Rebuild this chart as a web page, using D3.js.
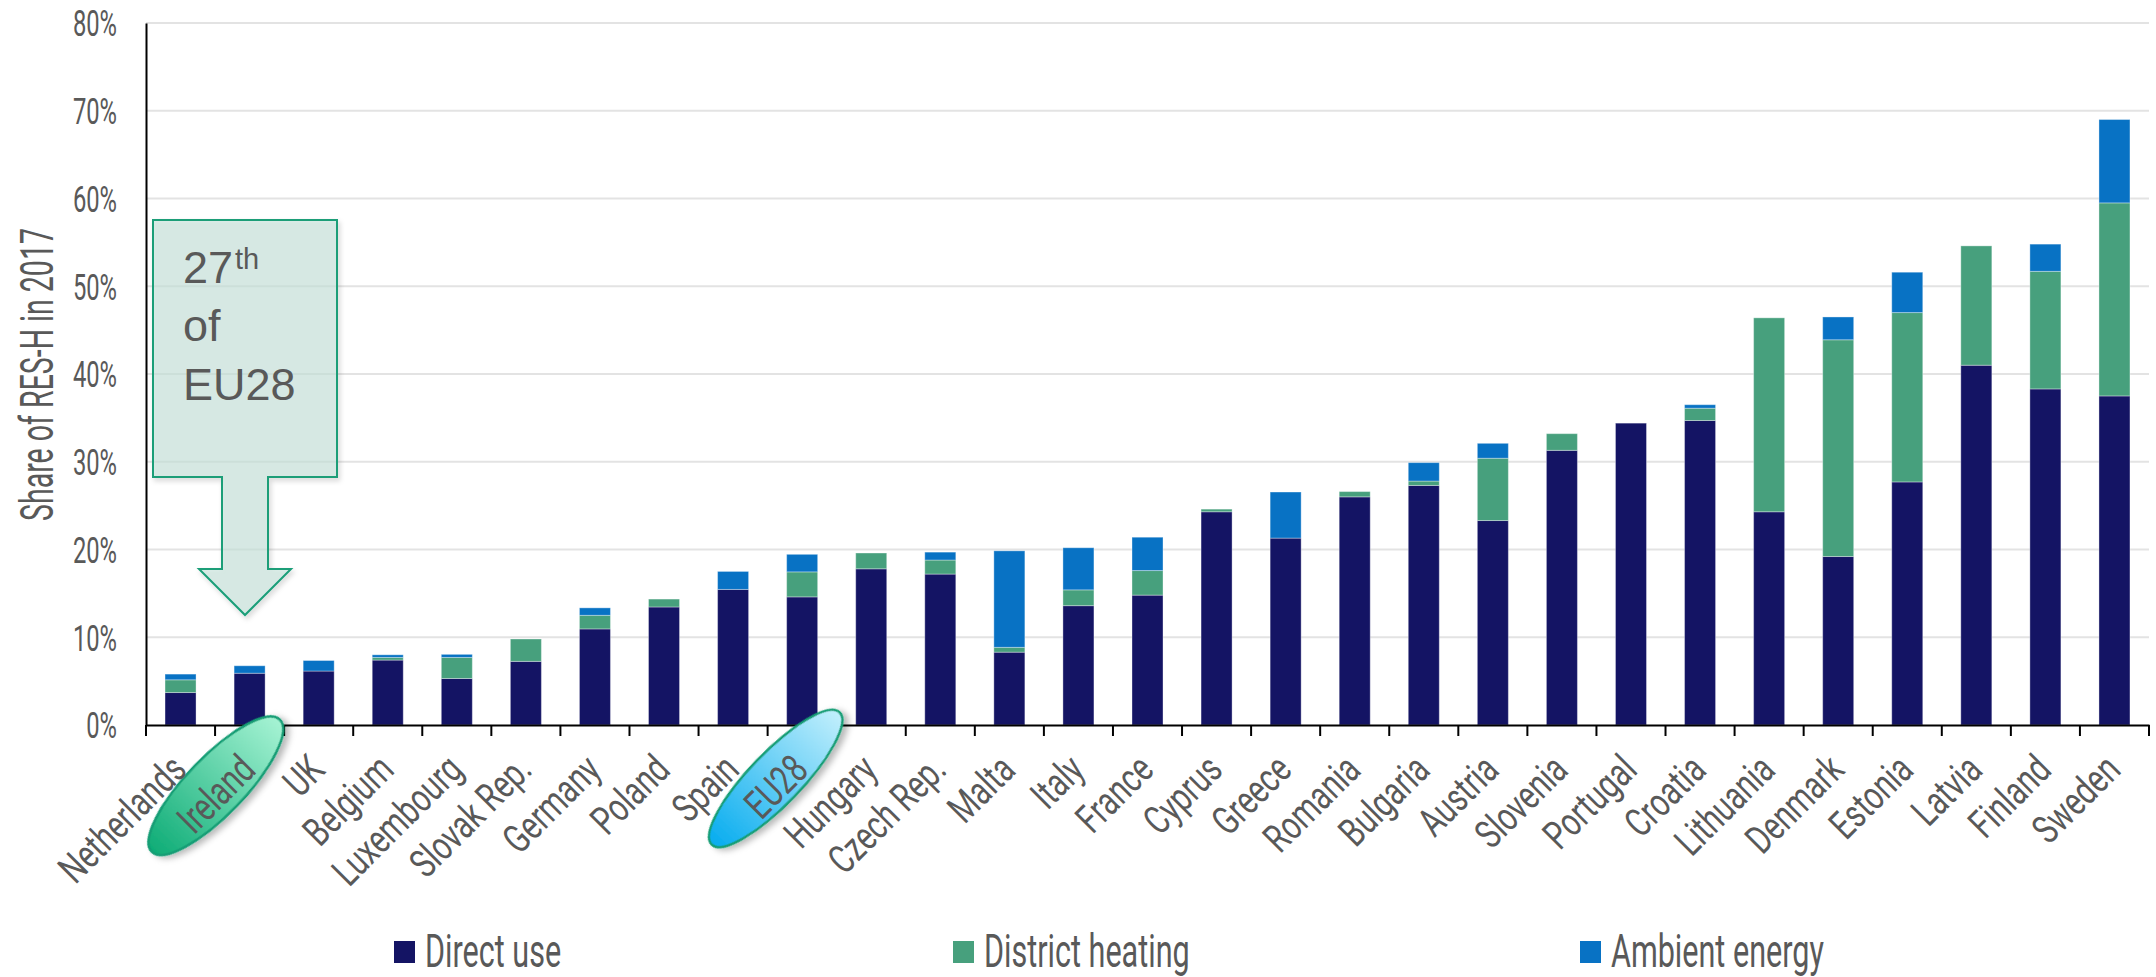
<!DOCTYPE html>
<html>
<head>
<meta charset="utf-8">
<script src="https://cdn.jsdelivr.net/npm/d3@7"></script>
<style>
  html, body { margin: 0; padding: 0; background: #ffffff; }
  svg { display: block; }
</style>
</head>
<body>
<svg id="chart" width="2156" height="977"></svg>
<script>
// Share of renewable energy in heating (RES-H), 2017, by source (percent)
const countries = ["Netherlands", "Ireland", "UK", "Belgium", "Luxembourg", "Slovak Rep.", "Germany", "Poland", "Spain", "EU28",
  "Hungary", "Czech Rep.", "Malta", "Italy", "France", "Cyprus", "Greece", "Romania", "Bulgaria", "Austria",
  "Slovenia", "Portugal", "Croatia", "Lithuania", "Denmark", "Estonia", "Latvia", "Finland", "Sweden"];
const directUse = [3.7, 5.9, 6.15, 7.4, 5.3, 7.25, 10.95, 13.45, 15.45, 14.6,
  17.8, 17.2, 8.3, 13.6, 14.8, 24.3, 21.3, 26.0, 27.3, 23.3,
  31.3, 34.4, 34.7, 24.3, 19.2, 27.7, 41.0, 38.3, 37.5];
const districtHeating = [1.45, 0, 0, 0.3, 2.4, 2.55, 1.55, 0.9, 0, 2.85,
  1.8, 1.6, 0.55, 1.8, 2.8, 0.3, 0, 0.6, 0.5, 7.1,
  1.9, 0, 1.4, 22.1, 24.7, 19.3, 13.6, 13.4, 22.0];
const ambientEnergy = [0.65, 0.85, 1.2, 0.3, 0.35, 0, 0.85, 0, 2.05, 2.0,
  0, 0.9, 11.0, 4.8, 3.8, 0, 5.25, 0, 2.1, 1.7,
  0, 0, 0.4, 0, 2.6, 4.6, 0, 3.1, 9.5];
const yTickValues = [0, 10, 20, 30, 40, 50, 60, 70, 80];
const seriesNames = ["Direct use", "District heating", "Ambient energy"];
const seriesColors = ["#141464", "#47a07d", "#0872c4"];
const yAxisTitle = "Share of RES-H in 2017";
const highlighted = ["Ireland", "EU28"];
const rankNote = ["27", "th", "of", "EU28"];

const rows = countries.map((c, i) => ({
  country: c,
  "Direct use": directUse[i],
  "District heating": districtHeating[i],
  "Ambient energy": ambientEnergy[i]
}));

const svg = d3.select("#chart");
const labelFont = "Roboto, 'DejaVu Sans', sans-serif";
const textGrey = "#595959";

// Narrow the glyphs of a text along its baseline (a condensed look)
function condense(selection, factor) {
  selection.each(function () {
    const len = this.getComputedTextLength();
    d3.select(this).attr("textLength", len * factor).attr("lengthAdjust", "spacingAndGlyphs");
  });
}

const plotLeft = 146, plotRight = 2149, plotTop = 23, plotBottom = 725;

const x = d3.scaleBand()
  .domain(countries)
  .range([plotLeft, plotRight])
  .paddingInner(0.551)
  .paddingOuter(0.2755);

const y = d3.scaleLinear().domain([0, 80]).range([plotBottom, plotTop]);
const color = d3.scaleOrdinal().domain(seriesNames).range(seriesColors);

// ---------- defs: gradients and shadow ----------
const defs = svg.append("defs");
const shadow = defs.append("filter").attr("id", "softShadow")
  .attr("x", "-30%").attr("y", "-30%").attr("width", "160%").attr("height", "160%");
shadow.append("feDropShadow").attr("dx", 2).attr("dy", 5).attr("stdDeviation", 3)
  .attr("flood-color", "#000").attr("flood-opacity", 0.28);

const calloutShadow = defs.append("filter").attr("id", "calloutShadow")
  .attr("x", "-20%").attr("y", "-20%").attr("width", "140%").attr("height", "140%");
calloutShadow.append("feDropShadow").attr("dx", 2).attr("dy", 3).attr("stdDeviation", 2.5)
  .attr("flood-color", "#000").attr("flood-opacity", 0.18);

const ovalStyles = {
  "Ireland": { from: "#0eac76", to: "#a6f3d4" },
  "EU28": { from: "#06acef", to: "#c2effc" }
};
Object.entries(ovalStyles).forEach(([k, s], i) => {
  const g = defs.append("linearGradient").attr("id", "ovalGrad" + i)
    .attr("x1", "0%").attr("y1", "50%").attr("x2", "100%").attr("y2", "50%");
  g.append("stop").attr("offset", "0%").attr("stop-color", s.from);
  g.append("stop").attr("offset", "100%").attr("stop-color", s.to);
  s.id = "ovalGrad" + i;
});

// ---------- gridlines ----------
svg.append("g").attr("class", "grid")
  .selectAll("line")
  .data(yTickValues.filter(d => d > 0))
  .join("line")
  .attr("x1", plotLeft).attr("x2", plotRight)
  .attr("y1", d => y(d)).attr("y2", d => y(d))
  .attr("stroke", "#e3e3e3").attr("stroke-width", 2);

// ---------- stacked bars ----------
const stacked = d3.stack().keys(seriesNames)(rows);
svg.append("g").attr("class", "bars")
  .selectAll("g")
  .data(stacked)
  .join("g")
  .attr("fill", d => color(d.key))
  .selectAll("rect")
  .data(d => d.filter(p => p[1] - p[0] > 0))
  .join("rect")
  .attr("x", d => x(d.data.country))
  .attr("width", x.bandwidth())
  .attr("y", d => y(d[1]))
  .attr("height", d => y(d[0]) - y(d[1]))
  .attr("stroke", "#ffffff").attr("stroke-opacity", 0.35).attr("stroke-width", 1);

// ---------- y axis ----------
const yAxis = svg.append("g").attr("class", "y-axis")
  .attr("transform", `translate(${plotLeft},0)`)
  .call(d3.axisLeft(y).tickValues(yTickValues).tickSize(0).tickPadding(29).tickFormat(d => d + "%"));
yAxis.select(".domain").attr("stroke", "#000").attr("stroke-width", 2);
yAxis.selectAll("text")
  .attr("font-family", labelFont).attr("font-size", 36).attr("fill", textGrey)
  .attr("dy", "0.36em")
  .call(condense, 0.66);

svg.append("text")
  .attr("transform", `translate(53,374.5) rotate(-90)`)
  .attr("text-anchor", "middle")
  .attr("font-family", labelFont).attr("font-size", 46).attr("fill", textGrey)
  .text(yAxisTitle)
  .call(condense, 0.62);

// ---------- x axis ----------
const xAxis = svg.append("g").attr("class", "x-axis")
  .attr("transform", `translate(0,${plotBottom})`)
  .call(d3.axisBottom(x).tickSize(0).tickSizeOuter(0).tickFormat(() => ""));
xAxis.select(".domain").attr("stroke", "#000").attr("stroke-width", 2.2);
xAxis.selectAll(".tick").remove();
xAxis.selectAll("line.boundary")
  .data(d3.range(countries.length + 1))
  .join("line")
  .attr("class", "boundary")
  .attr("x1", i => x.range()[0] + i * x.step())
  .attr("x2", i => x.range()[0] + i * x.step())
  .attr("y1", 0).attr("y2", 11)
  .attr("stroke", "#000").attr("stroke-width", 2);

// ---------- callout arrow ----------
const callout = svg.append("g").attr("class", "callout");
callout.append("path")
  .attr("d", "M153,220 H337 V477 H268 V569 H291 L245,615 L199,569 H222 V477 H153 Z")
  .attr("fill", "#c6e4dc").attr("fill-opacity", 0.62)
  .attr("stroke", "#1a9e78").attr("stroke-width", 2)
  .attr("filter", "url(#calloutShadow)");
const noteFont = "'Liberation Sans', Arial, sans-serif";
const t1 = callout.append("text")
  .attr("x", 183).attr("y", 283)
  .attr("font-family", noteFont).attr("font-size", 45).attr("fill", textGrey);
t1.append("tspan").text(rankNote[0]);
t1.append("tspan").attr("font-size", 29).attr("dy", -14).attr("dx", 2).text(rankNote[1]);
callout.append("text").attr("x", 183).attr("y", 341)
  .attr("font-family", noteFont).attr("font-size", 45).attr("fill", textGrey).text(rankNote[2]);
callout.append("text").attr("x", 183).attr("y", 400)
  .attr("font-family", noteFont).attr("font-size", 45).attr("fill", textGrey).text(rankNote[3]);

// ---------- highlight ovals (filled after labels are measured) ----------
const ovalLayer = svg.append("g").attr("class", "ovals");

// ---------- category labels ----------
const labelLayer = svg.append("g").attr("class", "x-labels");
const labels = labelLayer.selectAll("text")
  .data(countries)
  .join("text")
  .attr("transform", d => `translate(${x(d) + x.bandwidth() / 2 + 8},772) rotate(-45)`)
  .attr("text-anchor", "end")
  .attr("font-family", labelFont).attr("font-size", 40).attr("fill", textGrey)
  .text(d => d)
  .call(condense, 0.74);

labels.filter(d => highlighted.includes(d)).each(function (d) {
  const len = +d3.select(this).attr("textLength");
  const ex = x(d) + x.bandwidth() / 2 + 8, ey = 772;
  const cx = ex - (len / 2) * Math.SQRT1_2 - 10;
  const cy = ey + (len / 2) * Math.SQRT1_2 - 18;
  ovalLayer.append("ellipse")
    .attr("transform", `translate(${cx},${cy}) rotate(-46)`)
    .attr("rx", 92).attr("ry", d === "Ireland" ? 29 : 26)
    .attr("fill", `url(#${ovalStyles[d].id})`)
    .attr("stroke", "#139d74").attr("stroke-width", 2.5)
    .attr("filter", "url(#softShadow)");
});

// ---------- legend ----------
const legendX = [394, 953, 1580];
const legend = svg.append("g").attr("class", "legend")
  .selectAll("g")
  .data(seriesNames)
  .join("g")
  .attr("transform", (d, i) => `translate(${legendX[i]},941)`);
legend.append("rect")
  .attr("width", 21).attr("height", 22)
  .attr("fill", d => color(d));
legend.append("text")
  .attr("x", 31).attr("y", 26)
  .attr("font-family", labelFont).attr("font-size", 47).attr("fill", textGrey)
  .text(d => d)
  .call(condense, 0.65);
</script>
</body>
</html>
